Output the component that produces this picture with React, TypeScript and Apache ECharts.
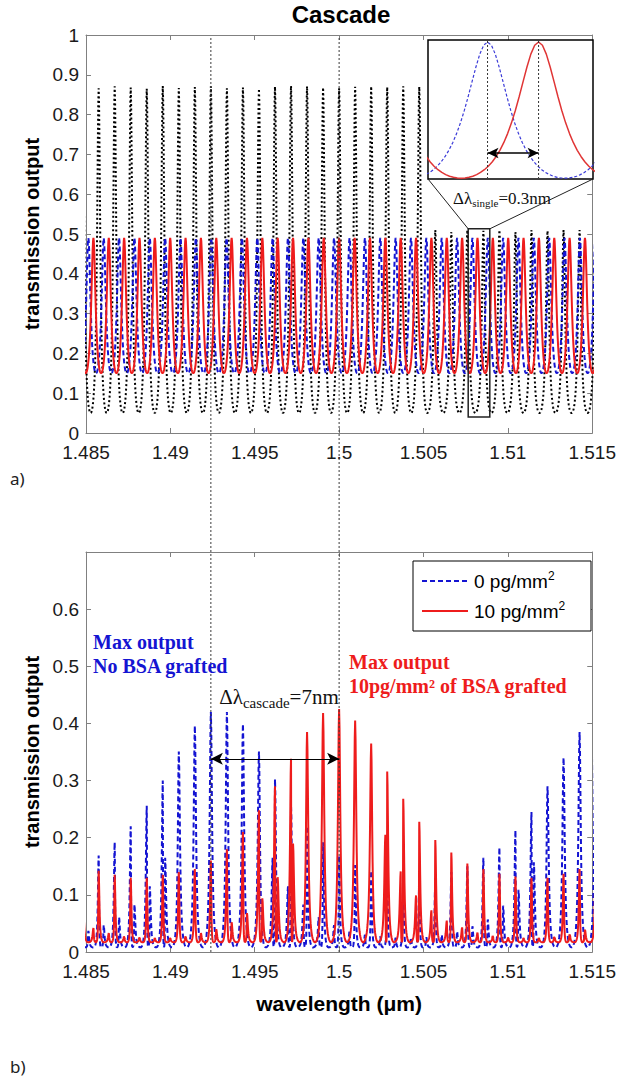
import React, { useEffect, useRef } from "react";
import * as echarts from "echarts";

// ---------------- data ----------------
const X_MIN = 1.485;
const X_MAX = 1.515;
const X_STEP = 0.005;

// Ring 1 (black dotted, panel a): resonance wavelengths (µm) and peak transmission
const RING1_PEAKS = [1.4848, 1.48575, 1.4867, 1.48765, 1.4886, 1.48955, 1.4905, 1.49145, 1.4924, 1.49335, 1.4943, 1.49525, 1.4962, 1.49715, 1.4981, 1.49905, 1.5, 1.50095, 1.5019, 1.50285, 1.5038, 1.50475, 1.5057, 1.50665, 1.5076, 1.50855, 1.5095, 1.51045, 1.5114, 1.51235, 1.5133, 1.51425, 1.5152];
const RING1_HEIGHTS = [0.868, 0.866, 0.871, 0.868, 0.865, 0.872, 0.867, 0.869, 0.871, 0.866, 0.868, 0.865, 0.87, 0.872, 0.871, 0.868, 0.866, 0.87, 0.871, 0.869, 0.871, 0.87, 0.51, 0.505, 0.51, 0.508, 0.51, 0.505, 0.51, 0.508, 0.51, 0.51, 0.51];
const RING1_VALLEY = 0.05;

// Ring 2 (panel a): 0 pg/mm² (blue dashed) and 10 pg/mm² (red) resonances
const RING2_BLUE_PEAKS = [1.48422, 1.48514, 1.48605, 1.48696, 1.48787, 1.48878, 1.48969, 1.4906, 1.49151, 1.49242, 1.49333, 1.49424, 1.49515, 1.49606, 1.49697, 1.49788, 1.49879, 1.4997, 1.50062, 1.50153, 1.50244, 1.50335, 1.50426, 1.50517, 1.50608, 1.50699, 1.5079, 1.50881, 1.50972, 1.51063, 1.51154, 1.51245, 1.51336, 1.51427, 1.51519];
const RING2_RED_PEAKS = [1.48361, 1.48452, 1.48544, 1.48635, 1.48726, 1.48817, 1.48908, 1.48999, 1.4909, 1.49181, 1.49272, 1.49363, 1.49454, 1.49545, 1.49636, 1.49727, 1.49818, 1.49909, 1.5, 1.50092, 1.50183, 1.50274, 1.50365, 1.50456, 1.50547, 1.50638, 1.50729, 1.5082, 1.50911, 1.51002, 1.51093, 1.51184, 1.51275, 1.51366, 1.51457, 1.51549];
const RING2_MAX = 0.49;
const RING2_VALLEY = 0.15;

// Cascade (panel b): main peaks sit on the ring-1 resonances
const CASCADE_BLUE_MAIN = [0.15, 0.169, 0.192, 0.22, 0.256, 0.3, 0.351, 0.396, 0.42, 0.42, 0.399, 0.351, 0.302, 0.256, 0.22, 0.192, 0.169, 0.152, 0.142, 0.135, 0.13, 0.128, 0.13, 0.14, 0.15, 0.165, 0.183, 0.213, 0.245, 0.29, 0.34, 0.385, 0.41];
const CASCADE_RED_MAIN = [0.145, 0.142, 0.135, 0.13, 0.13, 0.135, 0.14, 0.145, 0.16, 0.18, 0.21, 0.248, 0.29, 0.338, 0.385, 0.418, 0.425, 0.405, 0.365, 0.316, 0.268, 0.228, 0.196, 0.174, 0.155, 0.145, 0.137, 0.132, 0.13, 0.13, 0.137, 0.145, 0.15];
// side bumps on the ring-2 resonances
const CASCADE_BLUE_SIDE = [0.03, 0.037, 0.047, 0.061, 0.083, 0.115, 0.165, 0.237, 0.33, 0.41, 0.41, 0.33, 0.237, 0.165, 0.115, 0.083, 0.061, 0.047, 0.037, 0.03, 0.027, 0.025, 0.025, 0.026, 0.03, 0.036, 0.045, 0.057, 0.081, 0.109, 0.157, 0.225, 0.318, 0.4, 0.41];
const CASCADE_RED_SIDE = [0.071, 0.053, 0.042, 0.033, 0.028, 0.026, 0.025, 0.025, 0.028, 0.033, 0.04, 0.052, 0.068, 0.094, 0.131, 0.19, 0.274, 0.366, 0.426, 0.386, 0.294, 0.205, 0.141, 0.099, 0.073, 0.055, 0.043, 0.034, 0.029, 0.026, 0.025, 0.025, 0.027, 0.032, 0.039, 0.05];
const CASCADE_BLUE_VALLEY = 0.008;
const CASCADE_RED_VALLEY = 0.017;

// peak shapes, relative level at 0, 0.025, ... 0.5 of the spacing away from the peak
const RING1_PROFILE = [1, 0.9537, 0.8358, 0.6891, 0.5476, 0.4267, 0.3297, 0.2538, 0.1948, 0.149, 0.1133, 0.0853, 0.0632, 0.0457, 0.0321, 0.0214, 0.0133, 0.0073, 0.0032, 0.0008, 0];
const RING2_PROFILE = [1, 0.9765, 0.9112, 0.8168, 0.7089, 0.5996, 0.4975, 0.4064, 0.3275, 0.2606, 0.2045, 0.1579, 0.1194, 0.088, 0.0625, 0.0421, 0.0264, 0.0145, 0.0064, 0.0015, 0];
const CASCADE_PROFILE = [1, 0.9207, 0.7415, 0.5552, 0.4053, 0.2954, 0.2169, 0.1607, 0.1199, 0.0897, 0.067, 0.0498, 0.0365, 0.0263, 0.0183, 0.0121, 0.0074, 0.0041, 0.0017, 0.0004, 0];
const U_STEP = 0.025;

// legend entries
const LEGEND_NAMES = ["0 pg/mm2", "10 pg/mm2"];

// annotations
const CASCADE_LINES = [1.4924, 1.5];
const CASCADE_ARROW_Y = 0.338;
const ZOOM_BOX_X = [1.50765, 1.50893];
const ZOOM_BOX_Y = [0.04, 0.513];
const INSET_X = [1.50755, 1.50852];
const INSET_Y = [0.148, 0.495];
const INSET_BLUE_PEAK = RING2_BLUE_PEAKS[26];
const INSET_RED_PEAK = RING2_RED_PEAKS[27];
const INSET_ARROW_Y = 0.213;

// ---------------- helpers ----------------
function buildCurve(peaks: number[], heights: number[], valley: number, profile: number[]) {
  const pts: number[][] = [];
  const n = peaks.length;
  const last = profile.length - 1;
  for (let i = 0; i < n; i++) {
    const p = peaks[i];
    const h = heights[i];
    const gL = i > 0 ? p - peaks[i - 1] : peaks[1] - peaks[0];
    const gR = i < n - 1 ? peaks[i + 1] - p : p - peaks[i - 1];
    for (let t = last; t >= 1; t--) {
      if (t === last && i > 0) continue;
      pts.push([p - t * U_STEP * gL, valley + (h - valley) * profile[t]]);
    }
    pts.push([p, h]);
    for (let t = 1; t <= last; t++) {
      pts.push([p + t * U_STEP * gR, valley + (h - valley) * profile[t]]);
    }
  }
  return pts;
}

function mergePeaks(mainP: number[], mainH: number[], sideP: number[], sideH: number[], minSep: number) {
  const list: number[][] = mainP.map((p, i) => [p, mainH[i]]);
  sideP.forEach((p, i) => {
    if (mainP.every((m) => Math.abs(m - p) > minSep)) list.push([p, sideH[i]]);
  });
  list.sort((a, b) => a[0] - b[0]);
  return { p: list.map((d) => d[0]), h: list.map((d) => d[1]) };
}

const FONT_SANS = '"Liberation Sans", Arial, Helvetica, sans-serif';
const FONT_SERIF = '"Liberation Serif", "Times New Roman", serif';
const BLUE = "#1414d2";
const RED = "#ee1c1c";
const FRAME = "#808080";

export default function App() {
  const ref = useRef<HTMLDivElement>(null);

  useEffect(() => {
    if (!ref.current) return;
    const chart = echarts.init(ref.current, undefined, { renderer: "svg" });

    const ring1 = buildCurve(RING1_PEAKS, RING1_HEIGHTS, RING1_VALLEY, RING1_PROFILE);
    const ring2Blue = buildCurve(RING2_BLUE_PEAKS, RING2_BLUE_PEAKS.map(() => RING2_MAX), RING2_VALLEY, RING2_PROFILE);
    const ring2Red = buildCurve(RING2_RED_PEAKS, RING2_RED_PEAKS.map(() => RING2_MAX), RING2_VALLEY, RING2_PROFILE);
    const bMerged = mergePeaks(RING1_PEAKS, CASCADE_BLUE_MAIN, RING2_BLUE_PEAKS, CASCADE_BLUE_SIDE, 0.0001);
    const rMerged = mergePeaks(RING1_PEAKS, CASCADE_RED_MAIN, RING2_RED_PEAKS, CASCADE_RED_SIDE, 0.0001);
    const cascBlue = buildCurve(bMerged.p, bMerged.h, CASCADE_BLUE_VALLEY, CASCADE_PROFILE);
    const cascRed = buildCurve(rMerged.p, rMerged.h, CASCADE_RED_VALLEY, CASCADE_PROFILE);

    const axisLine = { show: true, onZero: false, lineStyle: { color: FRAME, width: 1 } };
    const axisTick = { show: true, inside: true, length: 5, lineStyle: { color: FRAME } };
    const labelStyle = { fontSize: 19, color: "#1a1a1a", fontFamily: FONT_SANS };

    const xAxisDef = (grid: number, pos: string, labels: boolean, extra: any = {}) => ({
      type: "value",
      gridIndex: grid,
      position: pos,
      min: X_MIN,
      max: X_MAX,
      interval: X_STEP,
      axisLine,
      axisTick,
      axisLabel: { show: labels, margin: 10, ...labelStyle },
      splitLine: { show: false },
      ...extra,
    });
    const yAxisDef = (grid: number, pos: string, labels: boolean, max: number, extra: any = {}) => ({
      type: "value",
      gridIndex: grid,
      position: pos,
      min: 0,
      max,
      interval: 0.1,
      axisLine,
      axisTick,
      axisLabel: { show: labels, margin: 7, ...labelStyle, showMaxLabel: max === 1 },
      splitLine: { show: false },
      ...extra,
    });
    const yName = {
      name: "transmission output",
      nameLocation: "middle",
      nameGap: 40,
      nameTextStyle: { fontSize: 20, fontWeight: "bold", color: "#000", fontFamily: FONT_SANS },
    };

    const lineSeries = (name: string, data: number[][], xi: number, yi: number, color: string, width: number, type: any, z = 2) => ({
      name,
      type: "line",
      xAxisIndex: xi,
      yAxisIndex: yi,
      data,
      showSymbol: false,
      symbol: "none",
      clip: true,
      z,
      lineStyle: { color, width, type },
      itemStyle: { color },
      emphasis: { disabled: true },
    });

    const option: any = {
      animation: false,
      backgroundColor: "#fff",
      grid: [
        { left: 86, top: 35, width: 510, height: 398 },
        { left: 86, top: 552, width: 510, height: 400 },
        { left: 428, top: 40, width: 165, height: 139 },
      ],
      xAxis: [
        xAxisDef(0, "bottom", true),
        xAxisDef(0, "top", false),
        xAxisDef(1, "bottom", true, {
          name: "wavelength (μm)",
          nameLocation: "middle",
          nameGap: 41,
          nameTextStyle: { fontSize: 21, fontWeight: "bold", color: "#000", fontFamily: FONT_SANS },
        }),
        xAxisDef(1, "top", false),
        { type: "value", gridIndex: 2, min: INSET_X[0], max: INSET_X[1], show: false },
      ],
      yAxis: [
        yAxisDef(0, "left", true, 1, yName),
        yAxisDef(0, "right", false, 1),
        yAxisDef(1, "left", true, 0.7, yName),
        yAxisDef(1, "right", false, 0.7),
        { type: "value", gridIndex: 2, min: INSET_Y[0], max: INSET_Y[1], show: false },
      ],
      series: [
        lineSeries("ring 1", ring1, 0, 0, "#000", 2, [2, 2.5]),
        lineSeries("ring 2 · 0 pg", ring2Blue, 0, 0, BLUE, 2, [5, 3]),
        lineSeries("ring 2 · 10 pg", ring2Red, 0, 0, RED, 2, "solid"),
        lineSeries(LEGEND_NAMES[0], cascBlue, 2, 2, BLUE, 2, [5, 3]),
        {
          ...lineSeries(LEGEND_NAMES[1], cascRed, 2, 2, RED, 2, "solid"),
          markLine: {
            silent: true,
            z: 6,
            symbol: ["arrow", "arrow"],
            symbolSize: [9, 12],
            label: { show: false },
            lineStyle: { color: "#000", width: 1, type: "solid" },
            data: [[{ coord: [CASCADE_LINES[0], CASCADE_ARROW_Y] }, { coord: [CASCADE_LINES[1], CASCADE_ARROW_Y] }]],
          },
        },
        lineSeries("inset 0 pg", ring2Blue, 4, 4, "#3a3ad8", 1.2, [3, 2], 20),
        {
          ...lineSeries("inset 10 pg", ring2Red, 4, 4, "#e03535", 1.5, "solid", 20),
          markLine: {
            silent: true,
            z: 26,
            symbol: ["arrow", "arrow"],
            symbolSize: [8, 11],
            label: { show: false },
            lineStyle: { color: "#000", width: 1.5, type: "solid" },
            data: [[{ coord: [INSET_BLUE_PEAK, INSET_ARROW_Y] }, { coord: [INSET_RED_PEAK, INSET_ARROW_Y] }]],
          },
        },
      ],
    };

    chart.setOption(option);

    const p0 = (x: number, y: number) => chart.convertToPixel({ xAxisIndex: 0, yAxisIndex: 0 }, [x, y]) as number[];
    const p1 = (x: number, y: number) => chart.convertToPixel({ xAxisIndex: 2, yAxisIndex: 2 }, [x, y]) as number[];
    const p2 = (x: number, y: number) => chart.convertToPixel({ xAxisIndex: 4, yAxisIndex: 4 }, [x, y]) as number[];

    const topTop = p0(X_MIN, 1)[1];
    const botBottom = p1(X_MIN, 0)[1];
    const boxA = p0(ZOOM_BOX_X[0], ZOOM_BOX_Y[1]);
    const boxB = p0(ZOOM_BOX_X[1], ZOOM_BOX_Y[0]);
    const inset = { x: 428, y: 40, w: 165, h: 139 };

    const txt = (x: number, y: number, text: string, font: string, fill: string, align = "left", valign = "middle", extra: any = {}) => ({
      type: "text",
      x,
      y,
      z: 30,
      style: { text, font, fill, align, verticalAlign: valign, textAlign: align, textVerticalAlign: valign, ...extra },
    });

    const graphics: any[] = [];
    CASCADE_LINES.forEach((lx) => {
      const px = p0(lx, 0)[0];
      graphics.push({
        type: "line",
        z: 5,
        silent: true,
        shape: { x1: px, y1: topTop + 3, x2: px, y2: botBottom },
        style: { stroke: "#3a3a3a", lineWidth: 1, lineDash: [2, 2] },
      });
    });
    graphics.push({
      type: "rect",
      z: 10,
      shape: { x: inset.x, y: inset.y, width: inset.w, height: inset.h },
      style: { fill: "#fff", stroke: "#000", lineWidth: 1.5 },
    });
    // dotted guides at the two inset resonances
    [INSET_BLUE_PEAK, INSET_RED_PEAK].forEach((lx) => {
      const a = p2(lx, INSET_Y[1]);
      const b = p2(lx, INSET_Y[0]);
      graphics.push({
        type: "line",
        z: 25,
        silent: true,
        shape: { x1: a[0], y1: inset.y + 1, x2: b[0], y2: inset.y + inset.h - 1 },
        style: { stroke: "#333", lineWidth: 1, lineDash: [2, 2] },
      });
    });
    graphics.push({
      type: "rect",
      z: 12,
      shape: { x: boxA[0], y: boxA[1], width: boxB[0] - boxA[0], height: boxB[1] - boxA[1] },
      style: { fill: "none", stroke: "#222", lineWidth: 1.5 },
    });
    graphics.push({
      type: "line",
      z: 12,
      shape: { x1: inset.x, y1: inset.y + inset.h, x2: boxA[0], y2: boxA[1] },
      style: { stroke: "#222", lineWidth: 1 },
    });
    graphics.push({
      type: "line",
      z: 12,
      shape: { x1: inset.x + inset.w, y1: inset.y + inset.h, x2: boxB[0], y2: boxA[1] },
      style: { stroke: "#222", lineWidth: 1 },
    });

    // legend (drawn by hand: line samples + labels)
    const lg = { x: 413, y: 561, w: 178, h: 70 };
    graphics.push({
      type: "rect",
      z: 28,
      shape: { x: lg.x, y: lg.y, width: lg.w, height: lg.h },
      style: { fill: "#fff", stroke: "#000", lineWidth: 1 },
    });
    const legendRows = [
      { name: LEGEND_NAMES[0], color: BLUE, dash: [5, 3], y: lg.y + 20 },
      { name: LEGEND_NAMES[1], color: RED, dash: null, y: lg.y + 50 },
    ];
    legendRows.forEach((r) => {
      graphics.push({
        type: "line",
        z: 29,
        shape: { x1: lg.x + 9, y1: r.y, x2: lg.x + 55, y2: r.y },
        style: { stroke: r.color, lineWidth: 2, lineDash: r.dash || undefined },
      });
      graphics.push(
        txt(lg.x + 61, r.y, r.name.replace("mm2", "mm{sup|2}"), `19px ${FONT_SANS}`, "#000", "left", "middle", {
          rich: {
            sup: { fontSize: 12, fontFamily: FONT_SANS, fill: "#000", padding: [0, 0, 10, 0] },
          },
        })
      );
    });

    graphics.push(txt(341, 14, "Cascade", `bold 24px ${FONT_SANS}`, "#000", "center"));
    graphics.push(txt(10, 478, "a)", `17px "Noto Sans", ${FONT_SANS}`, "#222"));
    graphics.push(txt(10, 1066, "b)", `17px "Noto Sans", ${FONT_SANS}`, "#222"));
    graphics.push(
      txt(502, 198, "{a|Δλ}{b|single}{a|=0.3nm}", `17px ${FONT_SERIF}`, "#111", "center", "middle", {
        rich: {
          a: { fontSize: 17, fontFamily: FONT_SERIF, fill: "#111" },
          b: { fontSize: 11, fontFamily: FONT_SERIF, fill: "#111", padding: [9, 0, 0, 0] },
        },
      })
    );
    graphics.push(
      txt(279, 697, "{a|Δλ}{b|cascade}{a|=7nm}", `21px ${FONT_SERIF}`, "#111", "center", "middle", {
        rich: {
          a: { fontSize: 21, fontFamily: FONT_SERIF, fill: "#111" },
          b: { fontSize: 15, fontFamily: FONT_SERIF, fill: "#111", padding: [11, 0, 0, 0] },
        },
      })
    );
    graphics.push(
      txt(93, 630, "Max output\nNo BSA grafted", `bold 20px ${FONT_SERIF}`, BLUE, "left", "top", { lineHeight: 24 })
    );
    graphics.push(
      txt(349, 650, "Max output\n10pg/mm² of BSA grafted", `bold 20px ${FONT_SERIF}`, RED, "left", "top", { lineHeight: 24 })
    );

    chart.setOption({ graphic: graphics });

    return () => chart.dispose();
  }, []);

  return (
    <div
      ref={ref}
      style={{ position: "absolute", left: 0, top: 0, width: 619, height: 1088, background: "#fff" }}
    />
  );
}
